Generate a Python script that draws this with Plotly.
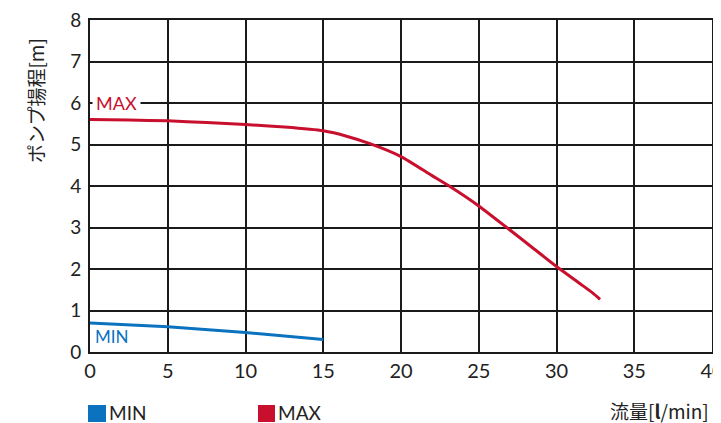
import plotly.graph_objects as go

max_x = [0, 2.5, 5, 7.5, 10, 12.5, 15, 16.5, 18, 20, 22, 23.1, 25, 26.8, 28.5, 30, 31.5, 32.3, 32.8]
max_y = [5.6, 5.59, 5.57, 5.53, 5.48, 5.42, 5.33, 5.2, 5.02, 4.71, 4.25, 4.0, 3.52, 3.0, 2.5, 2.06, 1.65, 1.43, 1.27]
min_x = [0, 5, 10, 15]
min_y = [0.7, 0.61, 0.47, 0.3]
x_ticks = [0, 5, 10, 15, 20, 25, 30, 35, 40]
y_ticks = [0, 1, 2, 3, 4, 5, 6, 7, 8]

RED = "#C8102E"
BLUE = "#0A72BF"
FONT = "Lato"

fig = go.Figure()
fig.add_trace(go.Scatter(x=max_x, y=max_y, mode="lines", line=dict(color=RED, width=3, shape="spline", smoothing=0.6), showlegend=False))
fig.add_trace(go.Scatter(x=min_x, y=min_y, mode="lines", line=dict(color=BLUE, width=3), showlegend=False))

# page body has an 8px margin, so the figure is drawn 8px smaller and offset
fig.update_layout(
    width=713, height=415,
    margin=dict(l=82, r=9, t=12, b=71),
    plot_bgcolor="white", paper_bgcolor="white",
    showlegend=False,
    font=dict(family=FONT, color="#222"),
)
fig.update_xaxes(range=[0, 40], tickvals=x_ticks, ticktext=[str(v) for v in x_ticks],
                 showgrid=True, gridcolor="#1a1a1a", gridwidth=1.6,
                 showline=True, linecolor="#1a1a1a", linewidth=2, mirror=True,
                 zeroline=False, ticks="", tickfont=dict(size=20, family=FONT, color="#222"),
                 ticklabelstandoff=0, ticklabeloverflow="allow", automargin=False)
fig.update_yaxes(range=[0, 8], tickvals=y_ticks, ticktext=[str(v) for v in y_ticks],
                 showgrid=True, gridcolor="#1a1a1a", gridwidth=1.6,
                 showline=True, linecolor="#1a1a1a", linewidth=2, mirror=True,
                 zeroline=False, ticks="", tickfont=dict(size=19, family=FONT, color="#222"),
                 ticklabelstandoff=3, ticklabeloverflow="allow", automargin=False)

# in-plot labels
fig.add_annotation(x=0, y=6, xref="x", yref="y", text="MAX", showarrow=False,
                   xanchor="left", yanchor="middle", xshift=2, bgcolor="white",
                   font=dict(size=18, color=RED, family=FONT), borderpad=3)
fig.add_annotation(x=0, y=0.37, xref="x", yref="y", text="MIN", showarrow=False,
                   xanchor="left", yanchor="middle", xshift=3,
                   font=dict(size=17, color=BLUE, family=FONT))


def px_x(p):
    return (p - 90) / 622


def px_y(p):
    return (352 - p) / 332


# y axis title
fig.add_annotation(xref="paper", yref="paper", x=px_x(35), y=px_y(101),
                   xanchor="center", yanchor="middle", text="ポンプ揚程[m]", showarrow=False,
                   textangle=-90, font=dict(size=19, color="#222", family="Noto Sans CJK JP"))

# x axis title
fig.add_annotation(xref="paper", yref="paper", x=px_x(711), y=px_y(410), xanchor="right", yanchor="middle",
                   text="流量[<b>l</b>/min]", showarrow=False,
                   font=dict(size=19, color="#222", family="Noto Sans CJK JP"))

# legend
for x0, x1, col, label in [(88, 106, BLUE, "MIN"), (258, 275, RED, "MAX")]:
    fig.add_shape(type="rect", xref="paper", yref="paper", x0=px_x(x0), x1=px_x(x1),
                  y0=px_y(422), y1=px_y(405), fillcolor=col, line=dict(width=0))
    fig.add_annotation(xref="paper", yref="paper", x=px_x(x1 + 1), y=px_y(412), xanchor="left",
                       yanchor="middle", text=label, showarrow=False,
                       font=dict(size=19, color="#222", family=FONT))

fig.write_html("out.html")
